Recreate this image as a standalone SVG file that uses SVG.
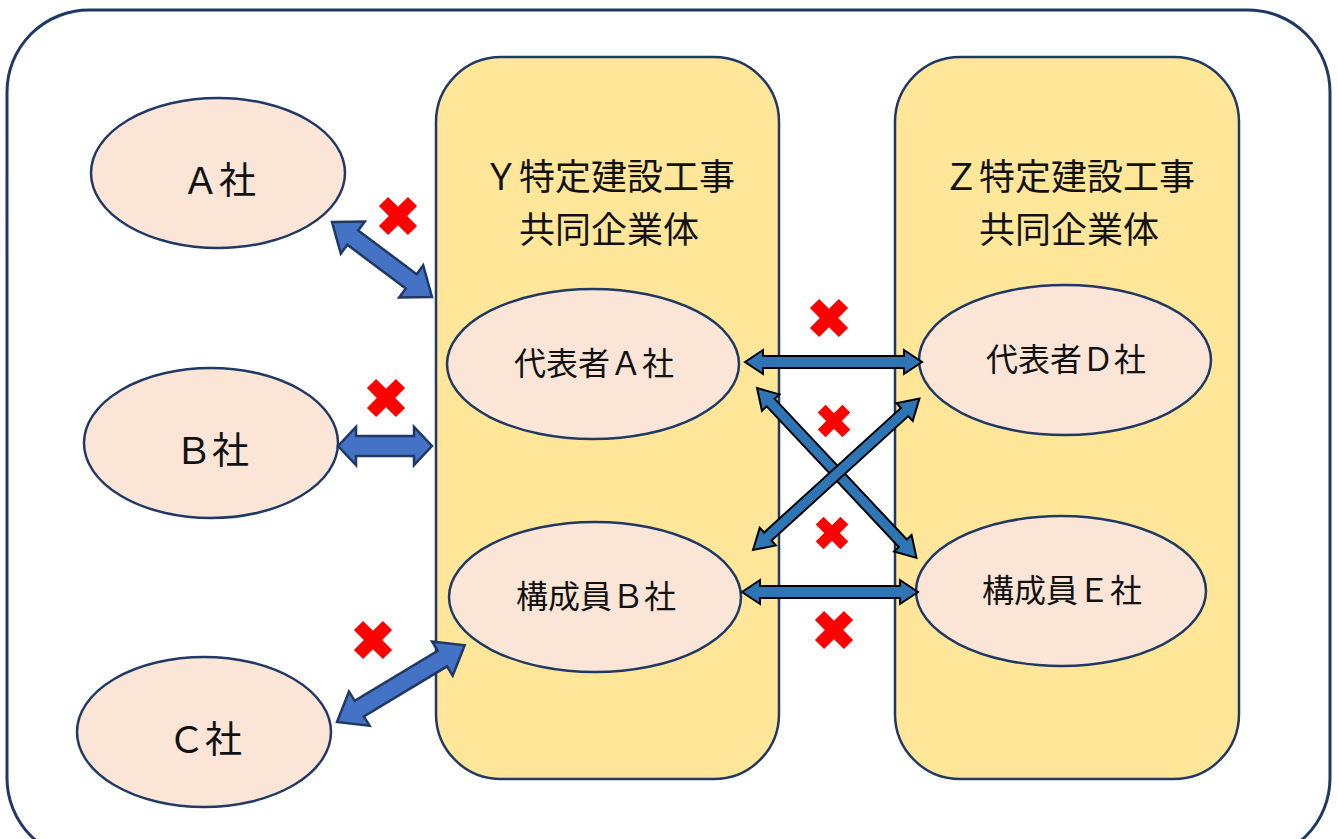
<svg xmlns="http://www.w3.org/2000/svg" width="1338" height="839" viewBox="0 0 1338 839">
<style>
.frame{fill:#fff;stroke:#1F3864;stroke-width:3}
.box{fill:#FFE699;stroke:#1F3864;stroke-width:2.5}
.co{fill:#FBE5D6;stroke:#1F3864;stroke-width:2.5}
.big{fill:#4472C4;stroke:#1F3864;stroke-width:2.5;stroke-linejoin:miter}
.thin{fill:#2E75B6;stroke:#000;stroke-width:2;stroke-linejoin:miter}
.x{fill:#FF0000}
text{font-family:"Noto Sans CJK JP","Noto Sans",sans-serif;fill:#111;text-anchor:middle}
.t1{font-size:37px}
.t2{font-size:36px}
.t3{font-size:32px}
</style>
<defs>
<polygon id="cross" points="-20.5,-6.5 -6.5,-6.5 -6.5,-20.5 6.5,-20.5 6.5,-6.5 20.5,-6.5 20.5,6.5 6.5,6.5 6.5,20.5 -6.5,20.5 -6.5,6.5 -20.5,6.5" transform="rotate(45)"/>
</defs>
<rect class="frame" x="7" y="10" width="1323" height="850" rx="82" ry="82"/>

<g id="jvY">
<rect class="box" x="436" y="57" width="343" height="722" rx="65" ry="65"/>
<text class="t2" x="609" y="190">Ｙ特定建設工事</text>
<text class="t2" x="609" y="243">共同企業体</text>
</g>
<g id="jvZ">
<rect class="box" x="895" y="57" width="344" height="722" rx="65" ry="65"/>
<text class="t2" x="1069" y="190">Ｚ特定建設工事</text>
<text class="t2" x="1069" y="243">共同企業体</text>
</g>

<g id="companyA">
<ellipse class="co" cx="218" cy="173" rx="127" ry="75"/>
<text class="t1" x="219" y="194">Ａ社</text>
</g>
<g id="companyB">
<ellipse class="co" cx="211" cy="443" rx="127" ry="75"/>
<text class="t1" x="212" y="464">Ｂ社</text>
</g>
<g id="companyC">
<ellipse class="co" cx="204" cy="732" rx="127" ry="75"/>
<text class="t1" x="205" y="753">Ｃ社</text>
</g>
<g id="repA">
<ellipse class="co" cx="593" cy="364" rx="146" ry="75"/>
<text class="t3" x="594" y="375">代表者Ａ社</text>
</g>
<g id="memB">
<ellipse class="co" cx="595" cy="597" rx="146" ry="75"/>
<text class="t3" x="596" y="608">構成員Ｂ社</text>
</g>
<g id="repD">
<ellipse class="co" cx="1065" cy="360" rx="146" ry="75"/>
<text class="t3" x="1066" y="371">代表者Ｄ社</text>
</g>
<g id="memE">
<ellipse class="co" cx="1061" cy="591" rx="145" ry="75"/>
<text class="t3" x="1062" y="602">構成員Ｅ社</text>
</g>

<g id="connectors">
<polygon class="big" transform="translate(332,222) rotate(36.87)" points="0,0 26,-20 26,-9 99,-9 99,-20 125,0 99,20 99,9 26,9 26,20"/>
<polygon class="big" transform="translate(338,446)" points="0,0 18,-19 18,-10 76,-10 76,-19 94,0 76,19 76,10 18,10 18,19"/>
<polygon class="big" transform="translate(337,722) rotate(-31.03)" points="0,0 26,-20 26,-9 123,-9 123,-20 149,0 123,20 123,9 26,9 26,20"/>
<polygon class="thin" transform="translate(745,362)" points="0,0 18,-12 18,-6 159,-6 159,-12 177,0 159,12 159,6 18,6 18,12"/>
<polygon class="thin" transform="translate(742,592)" points="0,0 18,-12 18,-6 158,-6 158,-12 176,0 158,12 158,6 18,6 18,12"/>
<polygon class="thin" transform="translate(757,388) rotate(46.8)" points="0,0 20,-12 20,-5.5 213,-5.5 213,-12 233,0 213,12 213,5.5 20,5.5 20,12"/>
<polygon class="thin" transform="translate(753,550) rotate(-42.3)" points="0,0 20,-12 20,-5.5 205,-5.5 205,-12 225,0 205,12 205,5.5 20,5.5 20,12"/>
</g>

<g id="marks">
<use href="#cross" class="x" transform="translate(398,216)"/>
<use href="#cross" class="x" transform="translate(386,398)"/>
<use href="#cross" class="x" transform="translate(373,640)"/>
<use href="#cross" class="x" transform="translate(829,318)"/>
<use href="#cross" class="x" transform="translate(834,421) scale(0.85)"/>
<use href="#cross" class="x" transform="translate(832,533) scale(0.85)"/>
<use href="#cross" class="x" transform="translate(834,630)"/>
</g>
</svg>
